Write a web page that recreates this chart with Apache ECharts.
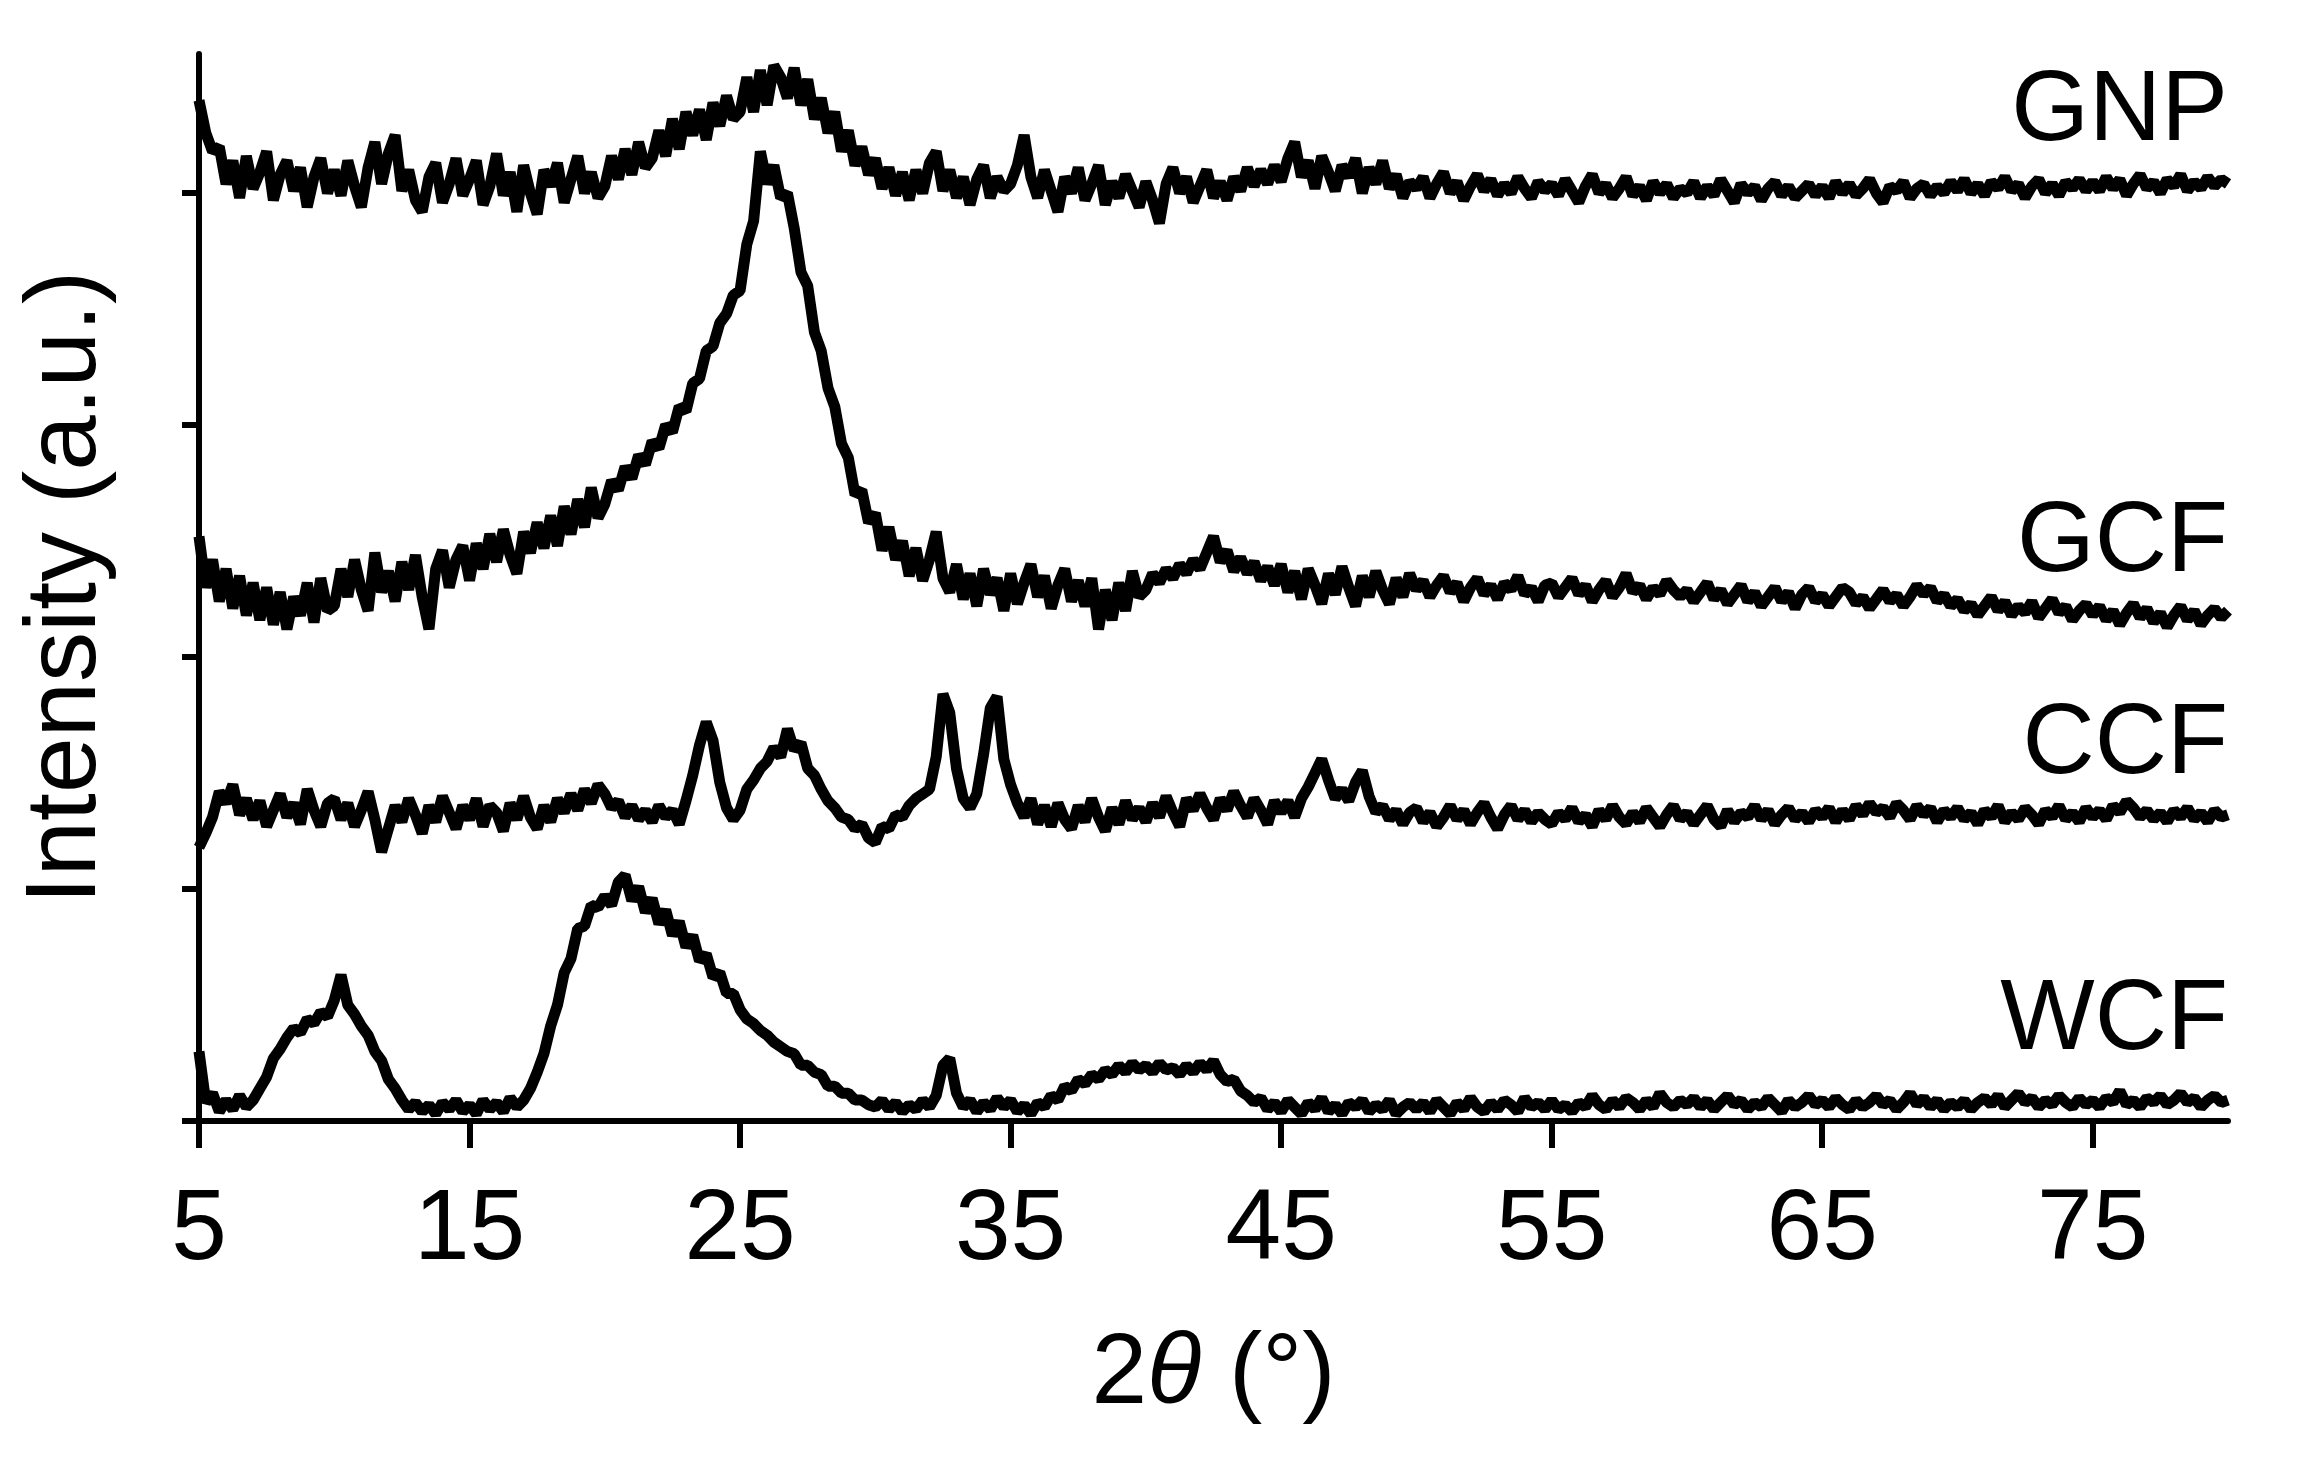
<!DOCTYPE html>
<html>
<head>
<meta charset="utf-8">
<script src="https://cdn.jsdelivr.net/npm/echarts@6/dist/echarts.min.js"></script>
<style>html,body{margin:0;padding:0;background:#fff}#c{width:2302px;height:1466px}</style>
</head>
<body>
<div id="c"></div>
<script>
// 2θ sampling grid: 5° to 80° in 0.25° steps (301 points)
const twoTheta = [];
for (let i = 0; i <= 300; i++) twoTheta.push(5 + i * 0.25);

const xTickLabels = [5, 15, 25, 35, 45, 55, 65, 75];
const yTicks = [0, 100, 200, 300, 400];
const seriesNames = ['GNP', 'GCF', 'CCF', 'WCF'];

const gnp = [
440,426,418,420,404,414,398,416,402,409,418,397,408,414,401,411,394,407,415,400,
410,399,414,403,394,411,422,404,417,425,401,410,397,392,407,413,396,404,415,399,
406,414,395,403,417,399,409,392,412,400,391,410,403,413,396,406,416,400,409,398,
403,416,406,419,408,422,411,415,427,416,432,419,435,425,436,423,439,429,442,432,
435,450,435,453,438,455,450,441,454,438,449,432,441,426,435,418,427,412,420,408,
415,402,411,399,409,397,410,400,413,418,401,410,398,407,395,406,412,398,407,401,
404,412,425,407,398,410,401,392,407,400,411,397,404,412,395,405,398,408,401,394,
405,397,387,404,411,400,407,396,403,410,398,405,397,407,401,411,403,410,404,412,
405,415,422,407,414,402,416,409,401,412,407,415,400,411,404,414,402,408,398,405,
402,407,398,404,409,400,405,397,403,408,401,406,399,404,400,407,402,398,405,401,
404,399,406,401,396,403,408,400,404,398,402,407,399,403,397,405,400,404,398,402,
400,405,398,403,399,406,401,396,404,400,403,397,402,405,399,403,398,401,404,399,
403,398,405,400,404,399,402,406,400,396,403,401,405,398,402,404,399,403,400,405,
401,406,400,404,399,405,402,407,401,404,398,403,406,400,404,399,405,402,406,401,
405,401,407,402,406,399,404,408,402,405,400,406,403,408,401,405,402,407,403,406,
404];

const gcf = [
252,230,242,224,238,221,235,218,232,216,230,214,228,212,226,218,232,215,234,220,
222,238,226,242,229,220,245,228,237,224,241,229,244,226,212,238,246,230,242,248,
233,249,238,253,241,255,244,236,254,245,258,247,261,248,265,253,268,256,273,260,
266,276,272,282,277,287,283,293,290,300,297,308,306,318,320,332,334,344,348,356,
358,378,388,418,404,412,398,400,385,366,360,340,332,316,308,292,286,270,272,258,
262,246,256,242,250,235,247,233,242,254,234,228,240,225,236,222,238,227,234,220,
236,223,232,240,226,235,221,231,238,224,233,222,234,212,229,216,232,220,237,226,
229,236,232,238,234,240,236,242,238,245,252,241,246,237,243,236,241,233,239,231,
240,228,237,225,238,231,223,236,227,239,230,222,235,226,237,229,223,234,226,236,
229,233,226,231,235,228,232,224,230,234,227,231,225,232,229,235,227,230,224,231,
232,226,230,234,227,231,224,229,233,226,230,236,228,231,225,230,227,233,229,226,
229,224,228,232,225,229,223,227,231,224,228,222,226,230,224,228,221,227,230,224,
227,222,226,230,228,223,226,221,225,229,224,227,222,226,231,227,230,224,227,222,
225,220,223,218,222,226,220,224,218,222,219,224,217,221,225,219,222,216,220,223,
218,222,216,220,214,219,223,217,221,215,219,213,218,222,216,220,214,218,221,217,
220];

const ccf = [
118,124,131,142,137,145,132,139,130,138,127,134,141,131,137,128,143,134,127,137,
139,130,137,127,134,142,130,116,126,136,129,139,132,124,136,129,140,133,126,136,
130,139,127,136,133,125,137,130,140,131,126,136,129,139,133,141,134,143,137,145,
141,135,138,131,136,130,134,129,136,131,134,128,138,149,162,172,164,146,135,130,
134,143,147,152,155,161,157,169,160,163,152,149,143,138,135,131,130,126,128,122,
120,127,126,132,131,136,139,141,143,157,184,176,152,139,135,141,158,178,183,156,
145,137,131,139,128,136,127,137,130,126,136,129,139,131,125,135,128,138,130,135,
129,137,131,140,133,127,139,134,141,135,130,139,134,142,136,131,139,134,128,138,
133,138,131,139,144,150,156,147,139,143,138,146,151,140,133,136,130,134,128,133,
135,129,133,127,131,136,130,134,128,133,137,131,126,132,136,130,134,129,133,130,
128,133,130,135,129,132,127,134,130,136,131,128,133,129,135,131,127,132,136,130,
133,128,132,136,130,127,134,129,133,131,136,130,134,128,132,135,130,133,129,134,
131,135,129,134,130,136,132,137,133,135,131,137,134,130,136,132,135,129,134,131,
135,130,133,128,134,131,136,129,133,130,135,132,128,134,131,136,130,133,129,135,
131,134,130,136,133,138,135,131,134,130,133,129,134,131,135,130,133,129,134,131,
132];

const wcf = [
30,8,12,4,9,5,11,6,9,14,19,27,31,36,40,38,44,42,47,45,
52,63,50,46,41,37,30,26,18,14,9,5,8,4,7,3,8,5,9,4,
7,3,9,5,8,4,10,6,9,14,21,29,41,50,64,70,83,84,93,92,
97,93,103,106,95,101,90,96,85,91,80,86,75,80,69,72,62,64,55,55,
48,44,42,39,37,34,32,30,29,24,24,21,20,15,15,12,12,9,9,7,
6,9,5,8,4,7,5,9,6,11,24,27,12,6,9,4,8,5,10,6,
9,4,7,3,8,6,11,9,15,13,18,16,20,18,22,20,24,21,25,22,
24,21,25,22,23,20,24,21,25,22,26,20,17,18,13,11,8,10,5,8,
4,9,6,3,8,5,10,4,7,3,8,6,9,4,7,5,9,3,6,8,
5,8,4,9,6,3,8,5,10,6,4,8,5,9,7,4,10,6,8,5,
9,5,7,4,8,6,11,7,5,9,6,10,8,5,9,6,12,8,6,9,
7,10,6,9,5,8,11,7,9,5,8,6,10,7,4,9,6,8,11,7,
9,6,10,7,5,9,6,8,11,7,9,5,8,12,7,10,6,9,5,8,
6,9,5,8,10,7,11,6,9,12,8,10,6,9,7,11,8,6,10,7,
9,6,10,8,13,7,9,6,10,8,11,7,9,12,8,10,6,9,11,8,
9];

const allSeries = [gnp, gcf, ccf, wcf];
allSeries.forEach((s, k) => { if (s.length !== twoTheta.length) console.error(seriesNames[k] + ' length ' + s.length); });

const FONT = 'Liberation Sans, Arial, sans-serif';
const chart = echarts.init(document.getElementById('c'), null, { renderer: 'canvas' });

const option = {
  animation: false,
  backgroundColor: '#ffffff',
  grid: { left: 199, right: 74, top: 54, bottom: 345, containLabel: false },
  xAxis: {
    type: 'value', min: 5, max: 80,
    axisLine: { show: true, onZero: false, lineStyle: { color: '#000', width: 6 } },
    axisTick: { show: true, customValues: xTickLabels, length: 27, lineStyle: { color: '#000', width: 6 } },
    axisLabel: { show: true, customValues: xTickLabels, margin: 60, fontSize: 100, color: '#000', fontFamily: FONT },
    splitLine: { show: false },
    name: '{a|2}{b|θ}{a| (°)}',
    nameLocation: 'middle', nameGap: 204,
    nameTextStyle: {
      rich: {
        a: { fontSize: 100, color: '#000', fontFamily: FONT },
        b: { fontSize: 100, color: '#000', fontFamily: FONT, fontStyle: 'italic' }
      }
    }
  },
  yAxis: {
    type: 'value', min: 0, max: 460,
    axisLine: { show: true, lineStyle: { color: '#000', width: 6 } },
    axisTick: { show: true, customValues: yTicks, length: 17, lineStyle: { color: '#000', width: 6 } },
    axisLabel: { show: false },
    splitLine: { show: false },
    name: 'Intensity (a.u.)', nameLocation: 'middle', nameGap: 82, nameRotate: 90,
    nameTextStyle: { fontSize: 100, color: '#000', fontFamily: FONT }
  },
  series: allSeries.map((s, k) => ({
    name: seriesNames[k],
    type: 'line',
    showSymbol: false,
    symbol: 'none',
    lineStyle: { color: '#000', width: 11, join: 'bevel' },
    data: twoTheta.map((x, i) => [x, s[i]])
  }))
};
chart.setOption(option);

// series name labels, anchored in data space at the right edge of the plot
const labelAnchors = [[80, 435], [80, 249], [80, 162], [80, 43]];
chart.setOption({
  graphic: seriesNames.map((n, k) => {
    const p = chart.convertToPixel({ gridIndex: 0 }, labelAnchors[k]);
    return {
      type: 'text', x: p[0], y: p[1],
      style: { text: n, fontSize: 100, fontFamily: FONT, fill: '#000', align: 'right', verticalAlign: 'middle' }
    };
  })
});
</script>
</body>
</html>
